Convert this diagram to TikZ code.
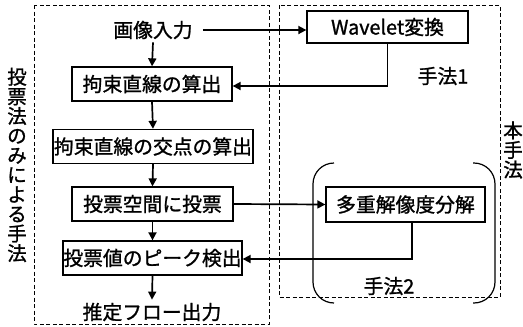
\documentclass[tikz,border=0pt]{standalone}
\usepackage{fontspec}
\setmainfont{Noto Sans CJK JP}[FakeBold=1.2,AutoFakeBold=1.2]
\usetikzlibrary{arrows.meta}
\begin{document}
\begin{tikzpicture}[x=1pt,y=-1pt,
  every node/.style={font=\fontsize{19.8}{19.8}\selectfont},
  proc/.style={draw,line width=1.3pt,inner sep=0pt,minimum height=34pt},
  lbl/.style={inner sep=3pt},
  arr/.style={line width=1.7pt,-{Triangle[length=8pt,width=8pt]}},
  grp/.style={line width=0.8pt,dash pattern=on 4pt off 2.5pt},
  brk/.style={line width=1.2pt,rounded corners=21pt},
  vtxt/.style={align=center,inner sep=0pt,font=\fontsize{19.5}{19.6}\selectfont}]
\useasboundingbox (0,0) rectangle (523,327);
% groups
\draw[grp] (34,5) rectangle (269,324);
\draw[grp] (279,5) rectangle (500,297);
% brackets
\draw[brk] (334,163) -- (313,163) -- (313,303) -- (334,303);
\draw[brk] (473,163) -- (495,163) -- (495,303) -- (473,303);
% nodes
\node[lbl] (in) at (153,30) {画像入力};
\node[proc,minimum width=161pt,minimum height=32pt] (wav) at (387.5,27) {Wavelet変換};
\node[proc,minimum width=160pt] (b1) at (152,84) {拘束直線の算出};
\node[proc,minimum width=200pt] (b2) at (153,146.5) {拘束直線の交点の算出};
\node[proc,minimum width=161pt] (b3) at (152.5,204) {投票空間に投票};
\node[proc,minimum width=179pt] (b4) at (152.5,258) {投票値のピーク検出};
\node[proc,minimum width=159pt,minimum height=35pt] (mr) at (405.5,204.5) {多重解像度分解};
\node[lbl] (out) at (152,312) {推定フロー出力};
\node[lbl] (h1) at (443,76) {手法1};
\node[lbl] (h2) at (389,286) {手法2};
\node[vtxt] (v1) at (17,165) {投\\票\\法\\の\\み\\に\\よ\\る\\手\\法};
\node[vtxt] (v2) at (513,150) {本\\手\\法};
% connectors
\draw[arr] ([xshift=7pt]in.east) -- (in.east -| wav.west);
\draw[arr] (in.south) -- (b1.north);
\draw[arr] (wav.south) |- ([yshift=-2pt]b1.east);
\draw[arr] (b1.south) -- (b2.north);
\draw[arr] (b2.south) -- (b3.north);
\draw[arr] (b3.south) -- (b4.north);
\draw[arr] (b4.south) -- (out.north);
\draw[arr] (b3.east) -- (mr.west);
\draw[arr] ([xshift=6.5pt]mr.south) |- ([yshift=-1pt]b4.east);
\end{tikzpicture}
\end{document}
